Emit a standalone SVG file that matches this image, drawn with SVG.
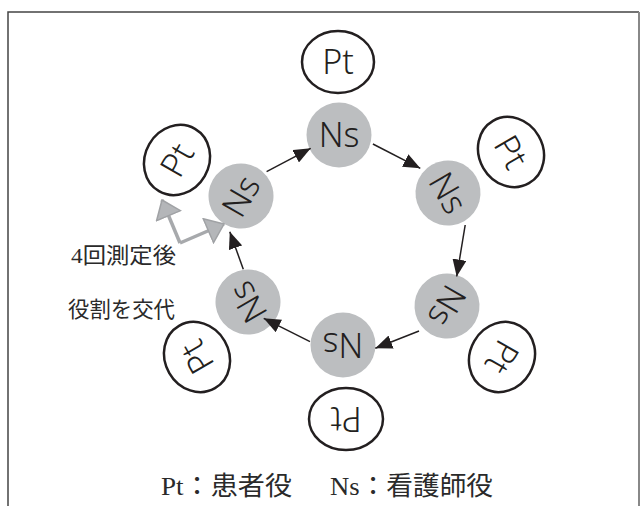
<svg xmlns="http://www.w3.org/2000/svg" width="641" height="506" viewBox="0 0 641 506">
<style>
.pt ellipse{fill:#fff;stroke:#231f20;stroke-width:2.5}
.ns circle{fill:#bcbec0;stroke:none}
.lbl{font-family:"Noto Sans","Liberation Sans",Arial,sans-serif;font-weight:300;font-size:34px;fill:#231f20;text-anchor:middle}
.conn line{stroke:#231f20;stroke-width:1.5;fill:none}
.jp{font-family:"Liberation Serif","Noto Sans CJK JP",serif;fill:#2a2a2a}
</style>
<defs>
<marker id="ah" markerUnits="userSpaceOnUse" markerWidth="17" markerHeight="14" refX="17" refY="7" orient="auto">
<path d="M0,0 L17,7 L0,14 z" fill="#231f20"/>
</marker>
<marker id="gh" markerUnits="userSpaceOnUse" markerWidth="19" markerHeight="28" refX="18" refY="14" orient="auto">
<path d="M1,1 L18,14 L1,27 z" fill="#b4b6b9" stroke="#a0a2a5" stroke-width="1.5"/>
</marker>
</defs>
<rect width="641" height="506" fill="#fff"/>
<g id="frame" fill="none">
<path d="M8,506 V12 H639" stroke="#444" stroke-width="1.5"/>
<path d="M639,12 V506" stroke="#888" stroke-width="2"/>
</g>
<g id="pt1" class="pt" transform="translate(338,62)"><ellipse rx="36" ry="31"/><text class="lbl" y="12">Pt</text></g>
<g id="pt2" class="pt" transform="translate(511,152) rotate(60)"><ellipse rx="36" ry="32"/><text class="lbl" y="12">Pt</text></g>
<g id="pt3" class="pt" transform="translate(502,357) rotate(120)"><ellipse rx="36" ry="32"/><text class="lbl" y="12">Pt</text></g>
<g id="pt4" class="pt" transform="translate(346,419) rotate(180)"><ellipse rx="37" ry="31"/><text class="lbl" y="12">Pt</text></g>
<g id="pt5" class="pt" transform="translate(197,357) rotate(240)"><ellipse rx="36" ry="32"/><text class="lbl" y="12">Pt</text></g>
<g id="pt6" class="pt" transform="translate(177,160) rotate(300)"><ellipse rx="36" ry="32"/><text class="lbl" y="12">Pt</text></g>
<g id="ns1" class="ns" transform="translate(339,135)"><circle r="32.5"/><text class="lbl" y="12">Ns</text></g>
<g id="ns2" class="ns" transform="translate(448,193) rotate(60)"><circle r="32.5"/><text class="lbl" y="12">Ns</text></g>
<g id="ns3" class="ns" transform="translate(447,306) rotate(120)"><circle r="32.5"/><text class="lbl" y="12">Ns</text></g>
<g id="ns4" class="ns" transform="translate(343,345) rotate(180)"><circle r="32.5"/><text class="lbl" y="12">Ns</text></g>
<g id="ns5" class="ns" transform="translate(248,302) rotate(240)"><circle r="32.5"/><text class="lbl" y="12">Ns</text></g>
<g id="ns6" class="ns" transform="translate(241,196) rotate(300)"><circle r="32.5"/><text class="lbl" y="12">Ns</text></g>
<g id="connectors" class="conn">
<line x1="266.6" y1="171.7" x2="310.7" y2="148.3" marker-end="url(#ah)"/>
<line x1="372.9" y1="144" x2="420.3" y2="168.3" marker-end="url(#ah)"/>
<line x1="465.2" y1="225" x2="456.7" y2="276.5" marker-end="url(#ah)"/>
<line x1="419" y1="331" x2="375.3" y2="348.3" marker-end="url(#ah)"/>
<line x1="310" y1="341.7" x2="263.7" y2="318.3" marker-end="url(#ah)"/>
<line x1="243.3" y1="269.3" x2="229.8" y2="231.7" marker-end="url(#ah)"/>
<path d="M180,243 L162,200" stroke="#a7a9ac" stroke-width="3.5" fill="none" marker-end="url(#gh)"/>
<path d="M180,243 L224,224" stroke="#a7a9ac" stroke-width="3.5" fill="none" marker-end="url(#gh)"/>
</g>
<g id="labels">
<text class="jp" x="71" y="263" font-size="22" textLength="105" lengthAdjust="spacingAndGlyphs">4回測定後</text>
<text class="jp" x="68" y="317" font-size="22" textLength="107" lengthAdjust="spacingAndGlyphs">役割を交代</text>
<text class="jp" x="161" y="495" font-size="26" textLength="131" lengthAdjust="spacingAndGlyphs">Pt：患者役</text>
<text class="jp" x="330" y="495" font-size="26" textLength="163" lengthAdjust="spacingAndGlyphs">Ns：看護師役</text>
</g>
</svg>
